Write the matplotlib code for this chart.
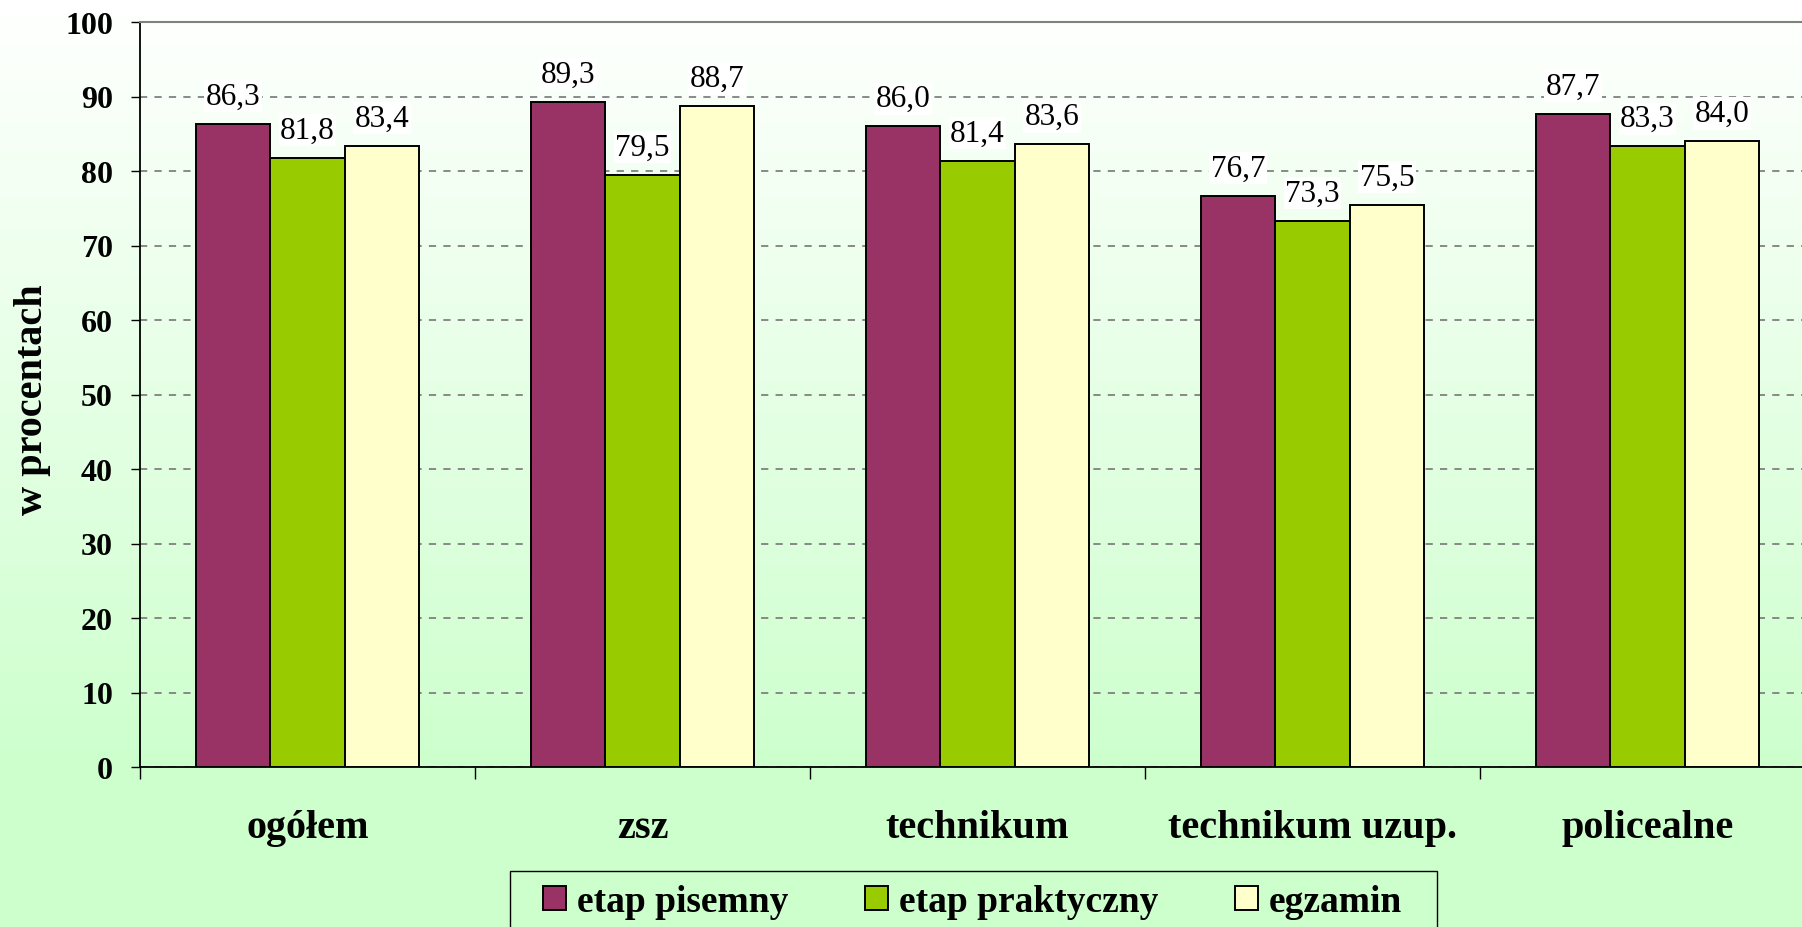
import matplotlib
matplotlib.use('Agg')
import matplotlib.pyplot as plt
from matplotlib.patches import Rectangle
import numpy as np

plt.rcParams['font.family'] = ['Liberation Serif', 'DejaVu Serif']

categories = ['ogółem', 'zsz', 'technikum', 'technikum uzup.', 'policealne']
series_names = ['etap pisemny', 'etap praktyczny', 'egzamin']
etap_pisemny = [86.3, 89.3, 86.0, 76.7, 87.7]
etap_praktyczny = [81.8, 79.5, 81.4, 73.3, 83.3]
egzamin = [83.4, 88.7, 83.6, 75.5, 84.0]
series = [etap_pisemny, etap_praktyczny, egzamin]
colors = ['#993366', '#99CC00', '#FFFFCC']
y_ticks = list(range(0, 101, 10))

W, H = 1802, 928
fig = plt.figure(figsize=(W / 100, H / 100), dpi=100)

# background gradient: white at top -> light green at bottom
bg = fig.add_axes([0, 0, 1, 1], zorder=-10)
rows = np.arange(H)
t = np.clip(rows / 780.0, 0, 1)[:, None]
top = np.array([1.0, 1.0, 1.0])
bot = np.array([204, 255, 204]) / 255.0
grad = top * (1 - t) + bot * t
bg.imshow(grad[:, None, :], aspect='auto', extent=[0, 1, 0, 1], origin='upper')
bg.axis('off')

ax = fig.add_axes([140 / W, (H - 768) / H, 1675 / W, 745 / H])
ax.set_facecolor('none')

x = np.arange(len(categories))
bw = 0.222
for i, (vals, c) in enumerate(zip(series, colors)):
    pos = x + (i - 1) * bw
    bars = ax.bar(pos, vals, width=bw, color=c, edgecolor='black', linewidth=1.4,
                  label=series_names[i], zorder=3)
    for b, v in zip(bars, vals):
        ax.annotate(f'{v:.1f}'.replace('.', ','),
                    (b.get_x() + b.get_width() / 2, v),
                    xytext=(0, 14.5), textcoords='offset points',
                    ha='center', va='baseline', fontsize=22.5, zorder=4,
                    bbox=dict(boxstyle='square,pad=0.05', fc='white', ec='none'))

ax.set_xlim(-0.5, len(categories) - 0.5)
ax.set_ylim(0, 100)
ax.set_yticks(y_ticks)
ax.set_yticklabels([str(v) for v in y_ticks], fontsize=23, fontweight='bold')
ax.tick_params(axis='y', direction='out', length=6.5, width=1, pad=13)

ax.set_xticks(np.arange(-0.5, len(categories)), labels=[''] * (len(categories) + 1))
ax.tick_params(axis='x', which='major', direction='out', length=8.6, width=1)
ax.set_xticks(x, labels=categories, minor=True)
ax.tick_params(axis='x', which='minor', length=0, pad=30, labelsize=29)
for lab in ax.get_xticklabels(minor=True):
    lab.set_fontweight('bold')

ax.yaxis.grid(True, color='#808080', linestyle=(0, (4, 4)), linewidth=1.3)
ax.set_axisbelow(True)

ax.spines['left'].set_color('black')
ax.spines['left'].set_linewidth(1.3)
ax.spines['bottom'].set_color('black')
ax.spines['bottom'].set_linewidth(1.3)
ax.spines['top'].set_color('#808080')
ax.spines['top'].set_linewidth(1.5)
ax.spines['right'].set_visible(False)

fig.text(33 / W, (H - 400) / H, 'w procentach', rotation=90, ha='center', va='center',
         fontsize=29, fontweight='bold')

# legend frame (cut by the lower edge, as in the original)
fig.patches.append(Rectangle((510 / W, -0.1), (1437 - 510) / W, 0.1 + (H - 872) / H,
                             transform=fig.transFigure, fc='#CCFFCC', ec='black',
                             lw=1.0, zorder=1))
leg = fig.legend(loc='center left', bbox_to_anchor=(543 / W, (H - 903) / H),
                 ncol=3, frameon=False, borderpad=0, borderaxespad=0,
                 handlelength=0.6, handleheight=0.6, handletextpad=0.3,
                 columnspacing=2.05, prop={'size': 27, 'weight': 'bold'})
leg.set_zorder(2)

fig.savefig('out.png', dpi=100)
